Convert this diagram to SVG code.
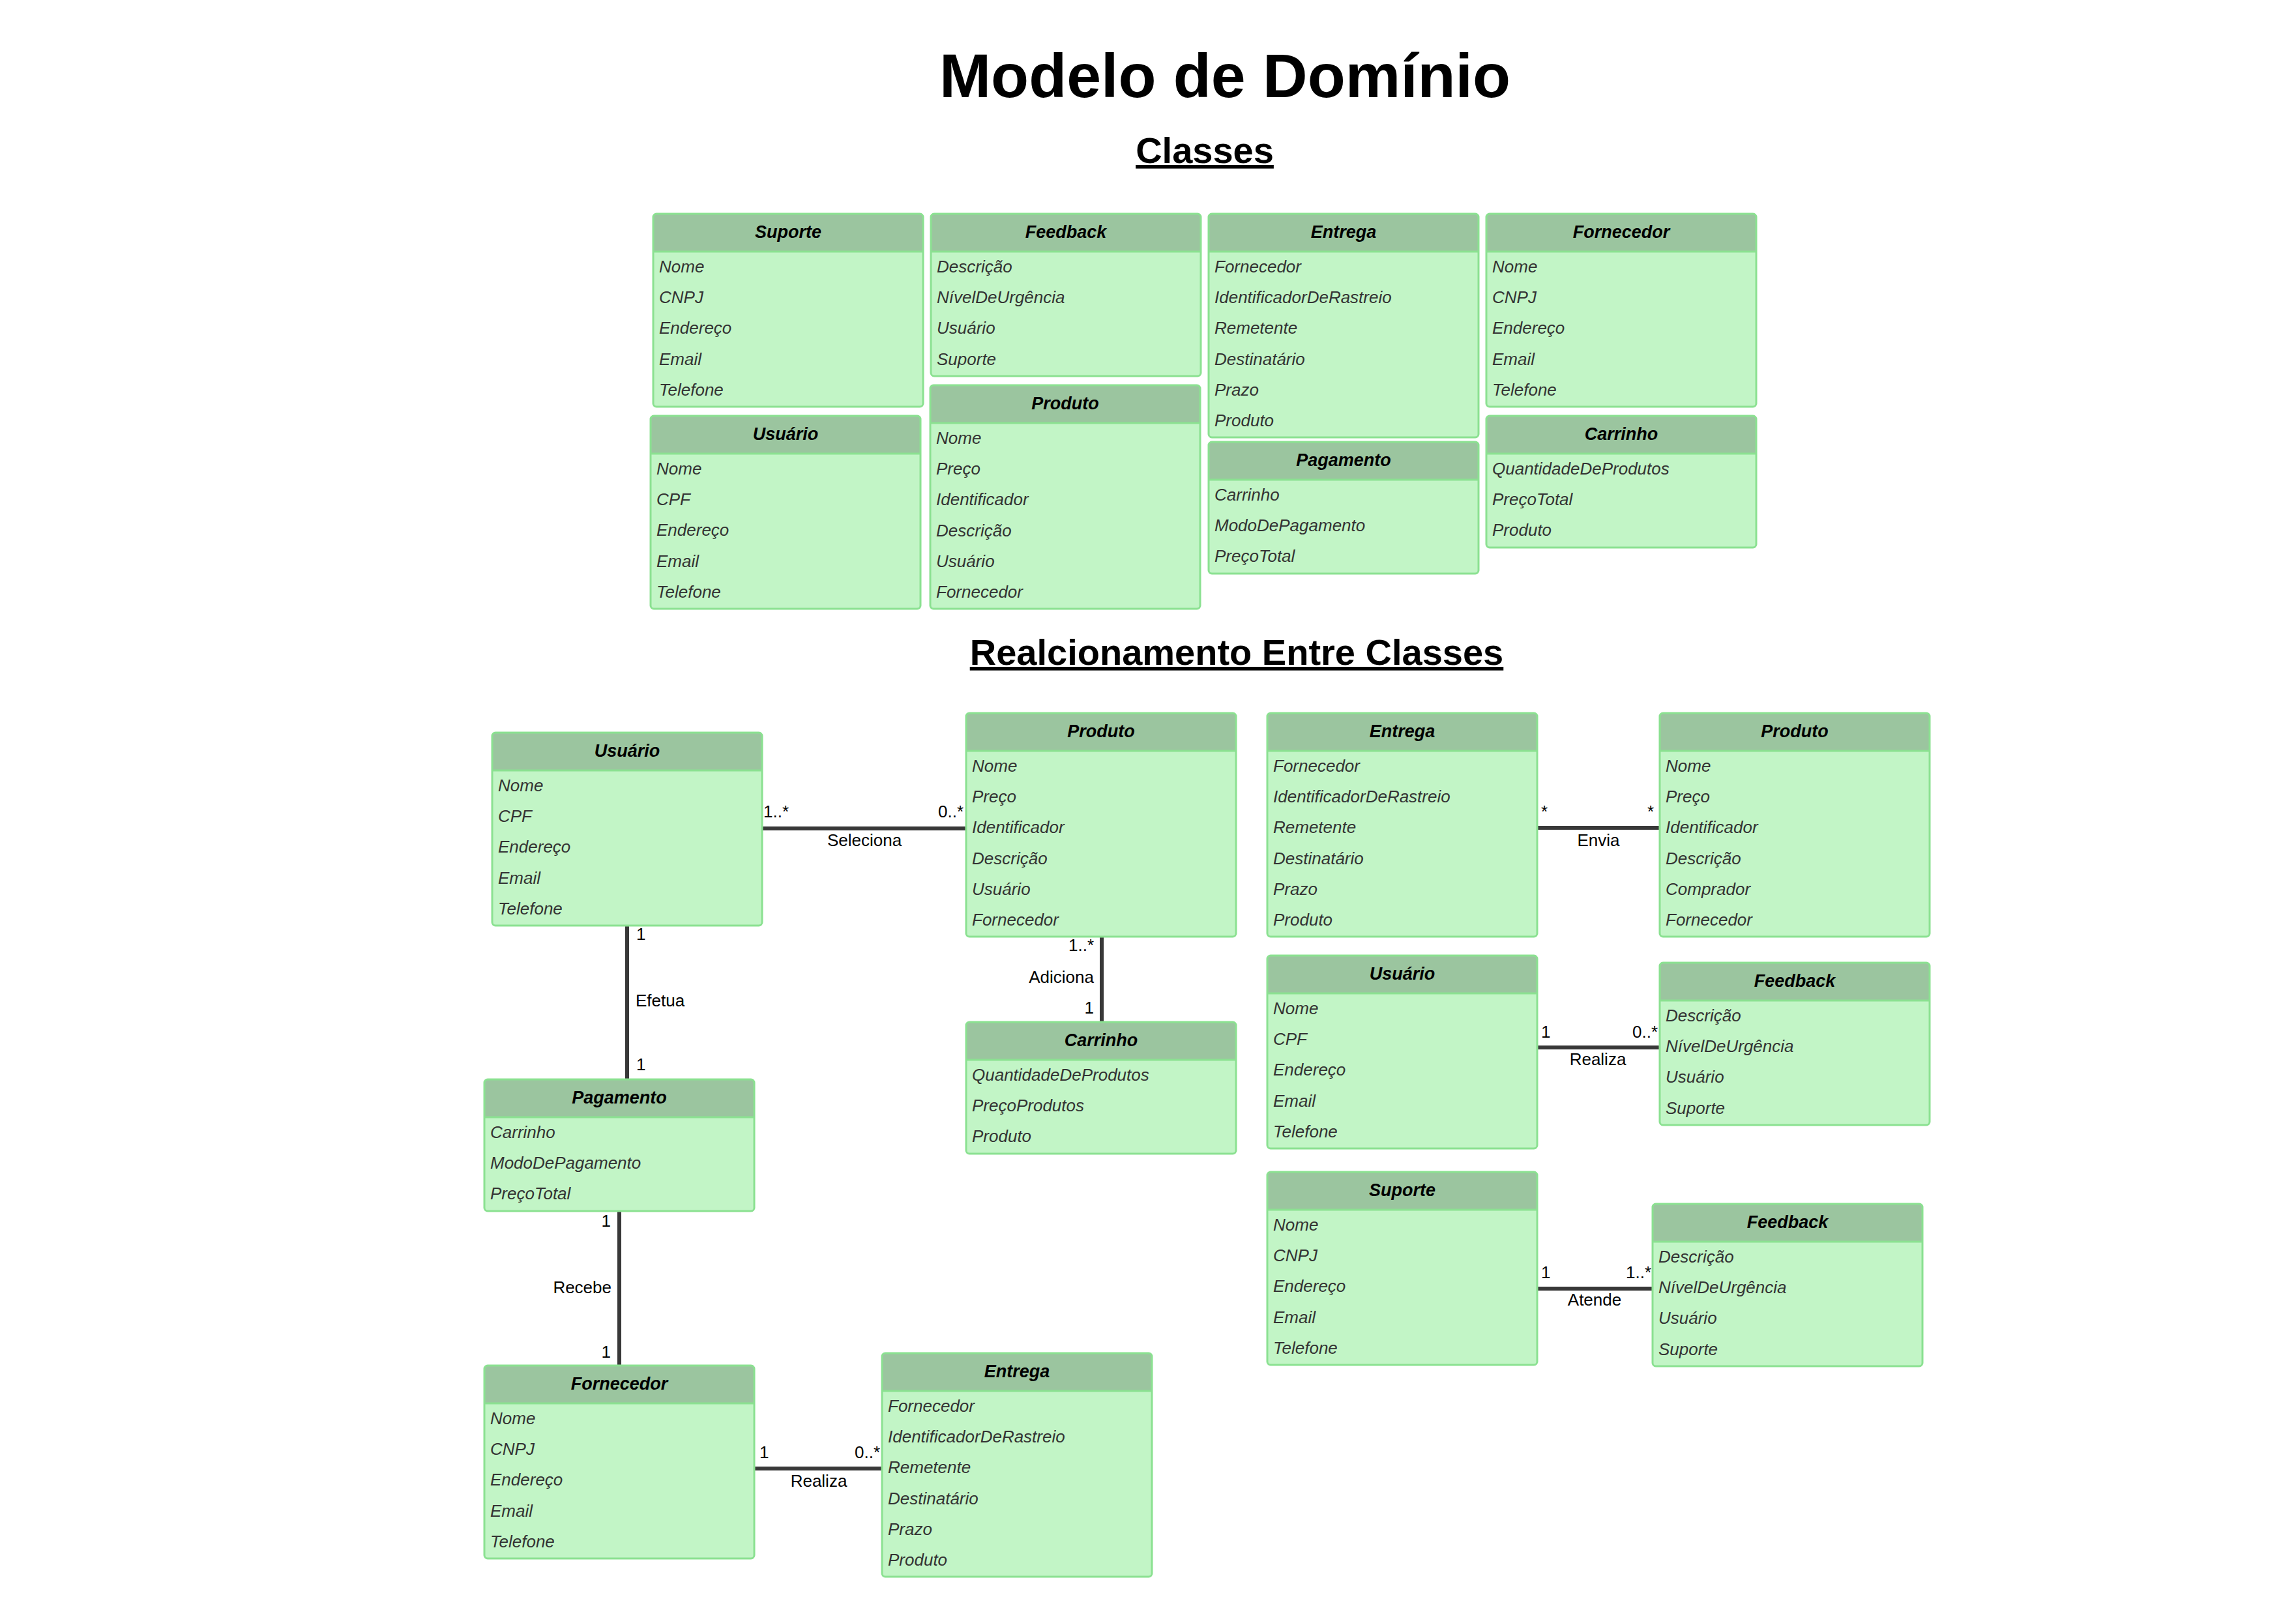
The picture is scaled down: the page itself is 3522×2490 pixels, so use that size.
<svg xmlns="http://www.w3.org/2000/svg" width="3522" height="2490" viewBox="0 0 3522 2490">
<style>
text{font-family:"Liberation Sans",Arial,sans-serif}
.title{font-size:95px;font-weight:bold;fill:#000;text-anchor:middle}
.sub{font-size:56px;font-weight:bold;fill:#000;text-anchor:middle;text-decoration:underline}
.box{fill:#C2F5C6;stroke:none}
.hdr{fill:#9BC59F;stroke:none}
.sep{stroke:#8BE191;stroke-width:3}
.out{fill:none;stroke:#8BE191;stroke-width:3}
.name{font-size:27px;font-weight:bold;font-style:italic;fill:#000;text-anchor:middle}
.attr{font-size:26px;font-style:italic;fill:#333}
.conn line{stroke:#383838;stroke-width:6}
.lbl{font-size:26px;fill:#000}
.mid{text-anchor:middle}
.end{text-anchor:end}
</style>
<defs>
<path id="h" d="M0,58 V5 Q0,0 5,0 H409 Q414,0 414,5 V58 Z"/>
</defs>
<rect width="3522" height="2490" fill="#fff"/>
<text class="title" x="1879" y="149">Modelo de Domínio</text>
<text class="sub" x="1848" y="250">Classes</text>
<text class="sub" x="1897" y="1020">Realcionamento Entre Classes</text>

<!-- Top section -->
<g id="c_suporte" transform="translate(1002,328)">
<rect class="box" width="414" height="296" rx="5"/><use href="#h" class="hdr"/><line class="sep" x1="0" y1="58" x2="414" y2="58"/><rect class="out" width="414" height="296" rx="5"/>
<text class="name" x="207" y="37">Suporte</text>
<text class="attr" x="9" y="90">Nome</text><text class="attr" x="9" y="137">CNPJ</text><text class="attr" x="9" y="184">Endereço</text><text class="attr" x="9" y="232">Email</text><text class="attr" x="9" y="279">Telefone</text>
</g>
<g id="c_feedback" transform="translate(1428,328)">
<rect class="box" width="414" height="249" rx="5"/><use href="#h" class="hdr"/><line class="sep" x1="0" y1="58" x2="414" y2="58"/><rect class="out" width="414" height="249" rx="5"/>
<text class="name" x="207" y="37">Feedback</text>
<text class="attr" x="9" y="90">Descrição</text><text class="attr" x="9" y="137">NívelDeUrgência</text><text class="attr" x="9" y="184">Usuário</text><text class="attr" x="9" y="232">Suporte</text>
</g>
<g id="c_entrega" transform="translate(1854,328)">
<rect class="box" width="414" height="343" rx="5"/><use href="#h" class="hdr"/><line class="sep" x1="0" y1="58" x2="414" y2="58"/><rect class="out" width="414" height="343" rx="5"/>
<text class="name" x="207" y="37">Entrega</text>
<text class="attr" x="9" y="90">Fornecedor</text><text class="attr" x="9" y="137">IdentificadorDeRastreio</text><text class="attr" x="9" y="184">Remetente</text><text class="attr" x="9" y="232">Destinatário</text><text class="attr" x="9" y="279">Prazo</text><text class="attr" x="9" y="326">Produto</text>
</g>
<g id="c_fornecedor" transform="translate(2280,328)">
<rect class="box" width="414" height="296" rx="5"/><use href="#h" class="hdr"/><line class="sep" x1="0" y1="58" x2="414" y2="58"/><rect class="out" width="414" height="296" rx="5"/>
<text class="name" x="207" y="37">Fornecedor</text>
<text class="attr" x="9" y="90">Nome</text><text class="attr" x="9" y="137">CNPJ</text><text class="attr" x="9" y="184">Endereço</text><text class="attr" x="9" y="232">Email</text><text class="attr" x="9" y="279">Telefone</text>
</g>
<g id="c_usuario" transform="translate(998,638)">
<rect class="box" width="414" height="296" rx="5"/><use href="#h" class="hdr"/><line class="sep" x1="0" y1="58" x2="414" y2="58"/><rect class="out" width="414" height="296" rx="5"/>
<text class="name" x="207" y="37">Usuário</text>
<text class="attr" x="9" y="90">Nome</text><text class="attr" x="9" y="137">CPF</text><text class="attr" x="9" y="184">Endereço</text><text class="attr" x="9" y="232">Email</text><text class="attr" x="9" y="279">Telefone</text>
</g>
<g id="c_produto" transform="translate(1427,591)">
<rect class="box" width="414" height="343" rx="5"/><use href="#h" class="hdr"/><line class="sep" x1="0" y1="58" x2="414" y2="58"/><rect class="out" width="414" height="343" rx="5"/>
<text class="name" x="207" y="37">Produto</text>
<text class="attr" x="9" y="90">Nome</text><text class="attr" x="9" y="137">Preço</text><text class="attr" x="9" y="184">Identificador</text><text class="attr" x="9" y="232">Descrição</text><text class="attr" x="9" y="279">Usuário</text><text class="attr" x="9" y="326">Fornecedor</text>
</g>
<g id="c_pagamento" transform="translate(1854,678)">
<rect class="box" width="414" height="202" rx="5"/><use href="#h" class="hdr"/><line class="sep" x1="0" y1="58" x2="414" y2="58"/><rect class="out" width="414" height="202" rx="5"/>
<text class="name" x="207" y="37">Pagamento</text>
<text class="attr" x="9" y="90">Carrinho</text><text class="attr" x="9" y="137">ModoDePagamento</text><text class="attr" x="9" y="184">PreçoTotal</text>
</g>
<g id="c_carrinho" transform="translate(2280,638)">
<rect class="box" width="414" height="202" rx="5"/><use href="#h" class="hdr"/><line class="sep" x1="0" y1="58" x2="414" y2="58"/><rect class="out" width="414" height="202" rx="5"/>
<text class="name" x="207" y="37">Carrinho</text>
<text class="attr" x="9" y="90">QuantidadeDeProdutos</text><text class="attr" x="9" y="137">PreçoTotal</text><text class="attr" x="9" y="184">Produto</text>
</g>

<!-- Connectors -->
<g id="connectors" class="conn">
<line x1="1169" y1="1271" x2="1482" y2="1271"/>
<line x1="962" y1="1420" x2="962" y2="1656"/>
<line x1="1690" y1="1437" x2="1690" y2="1568"/>
<line x1="2358" y1="1270" x2="2546" y2="1270"/>
<line x1="2358" y1="1607" x2="2546" y2="1607"/>
<line x1="2358" y1="1977" x2="2535" y2="1977"/>
<line x1="950" y1="1858" x2="950" y2="2095"/>
<line x1="1157" y1="2253" x2="1353" y2="2253"/>
<text class="lbl" x="1171" y="1254">1..*</text>
<text class="lbl end" x="1478" y="1254">0..*</text>
<text class="lbl mid" x="1326" y="1298">Seleciona</text>
<text class="lbl" x="976" y="1442">1</text>
<text class="lbl" x="975" y="1544">Efetua</text>
<text class="lbl" x="976" y="1642">1</text>
<text class="lbl end" x="1678" y="1459">1..*</text>
<text class="lbl end" x="1678" y="1508">Adiciona</text>
<text class="lbl end" x="1678" y="1555">1</text>
<text class="lbl" x="2364" y="1254">*</text>
<text class="lbl end" x="2537" y="1254">*</text>
<text class="lbl mid" x="2452" y="1298">Envia</text>
<text class="lbl" x="2364" y="1592">1</text>
<text class="lbl end" x="2543" y="1592">0..*</text>
<text class="lbl mid" x="2451" y="1634">Realiza</text>
<text class="lbl" x="2364" y="1961">1</text>
<text class="lbl end" x="2533" y="1961">1..*</text>
<text class="lbl mid" x="2446" y="2003">Atende</text>
<text class="lbl end" x="937" y="1882">1</text>
<text class="lbl end" x="938" y="1984">Recebe</text>
<text class="lbl end" x="937" y="2083">1</text>
<text class="lbl" x="1165" y="2237">1</text>
<text class="lbl end" x="1350" y="2237">0..*</text>
<text class="lbl mid" x="1256" y="2281">Realiza</text>
</g>

<!-- Relationship section -->
<g id="r_usuario" transform="translate(755,1124)">
<rect class="box" width="414" height="296" rx="5"/><use href="#h" class="hdr"/><line class="sep" x1="0" y1="58" x2="414" y2="58"/><rect class="out" width="414" height="296" rx="5"/>
<text class="name" x="207" y="37">Usuário</text>
<text class="attr" x="9" y="90">Nome</text><text class="attr" x="9" y="137">CPF</text><text class="attr" x="9" y="184">Endereço</text><text class="attr" x="9" y="232">Email</text><text class="attr" x="9" y="279">Telefone</text>
</g>
<g id="r_produto" transform="translate(1482,1094)">
<rect class="box" width="414" height="343" rx="5"/><use href="#h" class="hdr"/><line class="sep" x1="0" y1="58" x2="414" y2="58"/><rect class="out" width="414" height="343" rx="5"/>
<text class="name" x="207" y="37">Produto</text>
<text class="attr" x="9" y="90">Nome</text><text class="attr" x="9" y="137">Preço</text><text class="attr" x="9" y="184">Identificador</text><text class="attr" x="9" y="232">Descrição</text><text class="attr" x="9" y="279">Usuário</text><text class="attr" x="9" y="326">Fornecedor</text>
</g>
<g id="r_carrinho" transform="translate(1482,1568)">
<rect class="box" width="414" height="202" rx="5"/><use href="#h" class="hdr"/><line class="sep" x1="0" y1="58" x2="414" y2="58"/><rect class="out" width="414" height="202" rx="5"/>
<text class="name" x="207" y="37">Carrinho</text>
<text class="attr" x="9" y="90">QuantidadeDeProdutos</text><text class="attr" x="9" y="137">PreçoProdutos</text><text class="attr" x="9" y="184">Produto</text>
</g>
<g id="r_entrega" transform="translate(1944,1094)">
<rect class="box" width="414" height="343" rx="5"/><use href="#h" class="hdr"/><line class="sep" x1="0" y1="58" x2="414" y2="58"/><rect class="out" width="414" height="343" rx="5"/>
<text class="name" x="207" y="37">Entrega</text>
<text class="attr" x="9" y="90">Fornecedor</text><text class="attr" x="9" y="137">IdentificadorDeRastreio</text><text class="attr" x="9" y="184">Remetente</text><text class="attr" x="9" y="232">Destinatário</text><text class="attr" x="9" y="279">Prazo</text><text class="attr" x="9" y="326">Produto</text>
</g>
<g id="r_produto2" transform="translate(2546,1094)">
<rect class="box" width="414" height="343" rx="5"/><use href="#h" class="hdr"/><line class="sep" x1="0" y1="58" x2="414" y2="58"/><rect class="out" width="414" height="343" rx="5"/>
<text class="name" x="207" y="37">Produto</text>
<text class="attr" x="9" y="90">Nome</text><text class="attr" x="9" y="137">Preço</text><text class="attr" x="9" y="184">Identificador</text><text class="attr" x="9" y="232">Descrição</text><text class="attr" x="9" y="279">Comprador</text><text class="attr" x="9" y="326">Fornecedor</text>
</g>
<g id="r_usuario2" transform="translate(1944,1466)">
<rect class="box" width="414" height="296" rx="5"/><use href="#h" class="hdr"/><line class="sep" x1="0" y1="58" x2="414" y2="58"/><rect class="out" width="414" height="296" rx="5"/>
<text class="name" x="207" y="37">Usuário</text>
<text class="attr" x="9" y="90">Nome</text><text class="attr" x="9" y="137">CPF</text><text class="attr" x="9" y="184">Endereço</text><text class="attr" x="9" y="232">Email</text><text class="attr" x="9" y="279">Telefone</text>
</g>
<g id="r_feedback2" transform="translate(2546,1477)">
<rect class="box" width="414" height="249" rx="5"/><use href="#h" class="hdr"/><line class="sep" x1="0" y1="58" x2="414" y2="58"/><rect class="out" width="414" height="249" rx="5"/>
<text class="name" x="207" y="37">Feedback</text>
<text class="attr" x="9" y="90">Descrição</text><text class="attr" x="9" y="137">NívelDeUrgência</text><text class="attr" x="9" y="184">Usuário</text><text class="attr" x="9" y="232">Suporte</text>
</g>
<g id="r_suporte" transform="translate(1944,1798)">
<rect class="box" width="414" height="296" rx="5"/><use href="#h" class="hdr"/><line class="sep" x1="0" y1="58" x2="414" y2="58"/><rect class="out" width="414" height="296" rx="5"/>
<text class="name" x="207" y="37">Suporte</text>
<text class="attr" x="9" y="90">Nome</text><text class="attr" x="9" y="137">CNPJ</text><text class="attr" x="9" y="184">Endereço</text><text class="attr" x="9" y="232">Email</text><text class="attr" x="9" y="279">Telefone</text>
</g>
<g id="r_feedback3" transform="translate(2535,1847)">
<rect class="box" width="414" height="249" rx="5"/><use href="#h" class="hdr"/><line class="sep" x1="0" y1="58" x2="414" y2="58"/><rect class="out" width="414" height="249" rx="5"/>
<text class="name" x="207" y="37">Feedback</text>
<text class="attr" x="9" y="90">Descrição</text><text class="attr" x="9" y="137">NívelDeUrgência</text><text class="attr" x="9" y="184">Usuário</text><text class="attr" x="9" y="232">Suporte</text>
</g>
<g id="r_pagamento" transform="translate(743,1656)">
<rect class="box" width="414" height="202" rx="5"/><use href="#h" class="hdr"/><line class="sep" x1="0" y1="58" x2="414" y2="58"/><rect class="out" width="414" height="202" rx="5"/>
<text class="name" x="207" y="37">Pagamento</text>
<text class="attr" x="9" y="90">Carrinho</text><text class="attr" x="9" y="137">ModoDePagamento</text><text class="attr" x="9" y="184">PreçoTotal</text>
</g>
<g id="r_fornecedor" transform="translate(743,2095)">
<rect class="box" width="414" height="296" rx="5"/><use href="#h" class="hdr"/><line class="sep" x1="0" y1="58" x2="414" y2="58"/><rect class="out" width="414" height="296" rx="5"/>
<text class="name" x="207" y="37">Fornecedor</text>
<text class="attr" x="9" y="90">Nome</text><text class="attr" x="9" y="137">CNPJ</text><text class="attr" x="9" y="184">Endereço</text><text class="attr" x="9" y="232">Email</text><text class="attr" x="9" y="279">Telefone</text>
</g>
<g id="r_entrega2" transform="translate(1353,2076)">
<rect class="box" width="414" height="343" rx="5"/><use href="#h" class="hdr"/><line class="sep" x1="0" y1="58" x2="414" y2="58"/><rect class="out" width="414" height="343" rx="5"/>
<text class="name" x="207" y="37">Entrega</text>
<text class="attr" x="9" y="90">Fornecedor</text><text class="attr" x="9" y="137">IdentificadorDeRastreio</text><text class="attr" x="9" y="184">Remetente</text><text class="attr" x="9" y="232">Destinatário</text><text class="attr" x="9" y="279">Prazo</text><text class="attr" x="9" y="326">Produto</text>
</g>
</svg>
